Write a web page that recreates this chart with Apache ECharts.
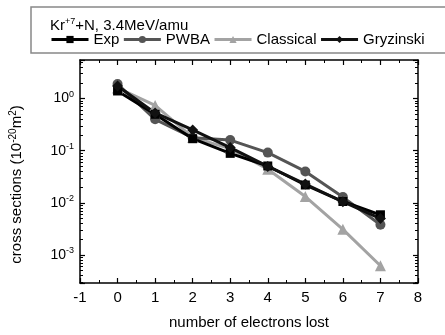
<!DOCTYPE html>
<html>
<head>
<meta charset="utf-8">
<script src="https://cdn.jsdelivr.net/npm/echarts@6/dist/echarts.min.js"></script>
<style>
  html, body { margin: 0; padding: 0; background: #fff; }
  #chart { width: 445px; height: 335px; }
</style>
</head>
<body>
<div id="chart"></div>
<script>
// electrons lost (x) and cross sections in 10^-20 m^2
const electrons = [0, 1, 2, 3, 4, 5, 6, 7];
const expData = [1.4, 0.5, 0.17, 0.089, 0.051, 0.022, 0.0106, 0.0059];
const pwbaData = [1.9, 0.40, 0.178, 0.16, 0.092, 0.040, 0.0129, 0.0038];
const classicalData = [1.6, 0.74, 0.18, 0.11, 0.044, 0.0132, 0.0031, 0.00062];
const gryzinskiData = [1.75, 0.53, 0.25, 0.115, 0.050, 0.023, 0.0105, 0.0050];
const legendNames = ['Exp', 'PWBA', 'Classical', 'Gryzinski'];

const font = '"Liberation Sans", Arial, sans-serif';
const chart = echarts.init(document.getElementById('chart'));

const pair = (ys) => electrons.map((x, i) => [x, ys[i]]);
const supRich = {
  b: { fontSize: 14, fontFamily: font, color: '#000' },
  sup: { fontSize: 9, fontFamily: font, color: '#000', padding: [0, 0, 8, 0] }
};

const isPow10 = (v) => Math.abs(Math.log10(v) - Math.round(Math.log10(v))) < 1e-6;

function line(name, data, color, symbol, size) {
  return {
    name, type: 'line', data: pair(data),
    symbol, symbolSize: size,
    lineStyle: { color, width: 3 },
    itemStyle: { color },
    xAxisIndex: 0, yAxisIndex: 0,
    animation: false
  };
}

const tickCommon = { inside: true, length: 5, lineStyle: { color: '#000', width: 1.2 } };
const minorCommon = { show: true, length: 3, lineStyle: { color: '#000', width: 1 } };

chart.setOption({
  animation: false,
  title: {
    text: '{b|Kr}{sup|+7}{b|+N, 3.4MeV/amu}',
    left: 45, top: 12,
    textStyle: { fontWeight: 'normal', rich: {
      b: { fontSize: 15, fontFamily: font, color: '#000', fontWeight: 'normal' },
      sup: { fontSize: 9, fontFamily: font, color: '#000', fontWeight: 'normal', padding: [0, 0, 8, 0] }
    } }
  },
  graphic: [{
    type: 'rect',
    shape: { x: 31, y: 7, width: 440, height: 46 },
    style: { fill: 'none', stroke: '#888', lineWidth: 1.5 },
    silent: true
  }],
  legend: {
    data: legendNames,
    left: 50, top: 32, padding: 0,
    itemWidth: 37, itemHeight: 9, itemGap: 3,
    lineStyle: { width: 3 },
    textStyle: { fontSize: 15, fontFamily: font, color: '#000' }
  },
  grid: { left: 79, right: 27, top: 60, bottom: 50 },
  xAxis: [{
    type: 'value', min: -1, max: 8, interval: 1,
    name: 'number of electrons lost', nameLocation: 'middle', nameGap: 32,
    nameTextStyle: { fontSize: 15, fontFamily: font, color: '#000' },
    axisLine: { onZero: false, lineStyle: { color: '#000', width: 1.5 } },
    axisTick: tickCommon,
    minorTick: Object.assign({ splitNumber: 2 }, minorCommon),
    axisLabel: { fontSize: 15, fontFamily: font, color: '#000', margin: 7 },
    splitLine: { show: false }
  }, {
    type: 'value', min: -1, max: 8, interval: 1, position: 'top',
    axisLine: { onZero: false, lineStyle: { color: '#000', width: 1.5 } },
    axisTick: tickCommon,
    minorTick: Object.assign({ splitNumber: 2 }, minorCommon),
    axisLabel: { show: false },
    splitLine: { show: false }
  }],
  yAxis: [{
    type: 'log', logBase: 10, min: 0.00029, max: 5.5,
    name: 'cross sections (10{sup|-20}m{sup|2})',
    nameLocation: 'middle', nameGap: 54, nameRotate: 90,
    nameTextStyle: { fontSize: 15, fontFamily: font, color: '#000', padding: [0, 26, 0, 0], rich: {
      b: { fontSize: 15, fontFamily: font, color: '#000' },
      sup: { fontSize: 10, fontFamily: font, color: '#000', padding: [0, 0, 8, 0] }
    } },
    axisLine: { onZero: false, lineStyle: { color: '#000', width: 1.5 } },
    axisTick: tickCommon,
    minorTick: Object.assign({ splitNumber: 9 }, minorCommon),
    axisLabel: {
      fontSize: 14, fontFamily: font, color: '#000', margin: 6,
      formatter: (v) => isPow10(v) ? '{b|10}{sup|' + Math.round(Math.log10(v)) + '}' : '',
      rich: supRich
    },
    splitLine: { show: false }
  }, {
    type: 'log', logBase: 10, min: 0.00029, max: 5.5, position: 'right',
    axisLine: { onZero: false, lineStyle: { color: '#000', width: 1.5 } },
    axisTick: tickCommon,
    minorTick: Object.assign({ splitNumber: 9 }, minorCommon),
    axisLabel: { show: false },
    splitLine: { show: false }
  }],
  series: [
    line('Classical', classicalData, '#a3a3a3', 'triangle', 11),
    line('PWBA', pwbaData, '#555555', 'circle', 10),
    line('Exp', expData, '#000000', 'rect', 9),
    line('Gryzinski', gryzinskiData, '#111111', 'diamond', 11)
  ]
});
</script>
</body>
</html>
